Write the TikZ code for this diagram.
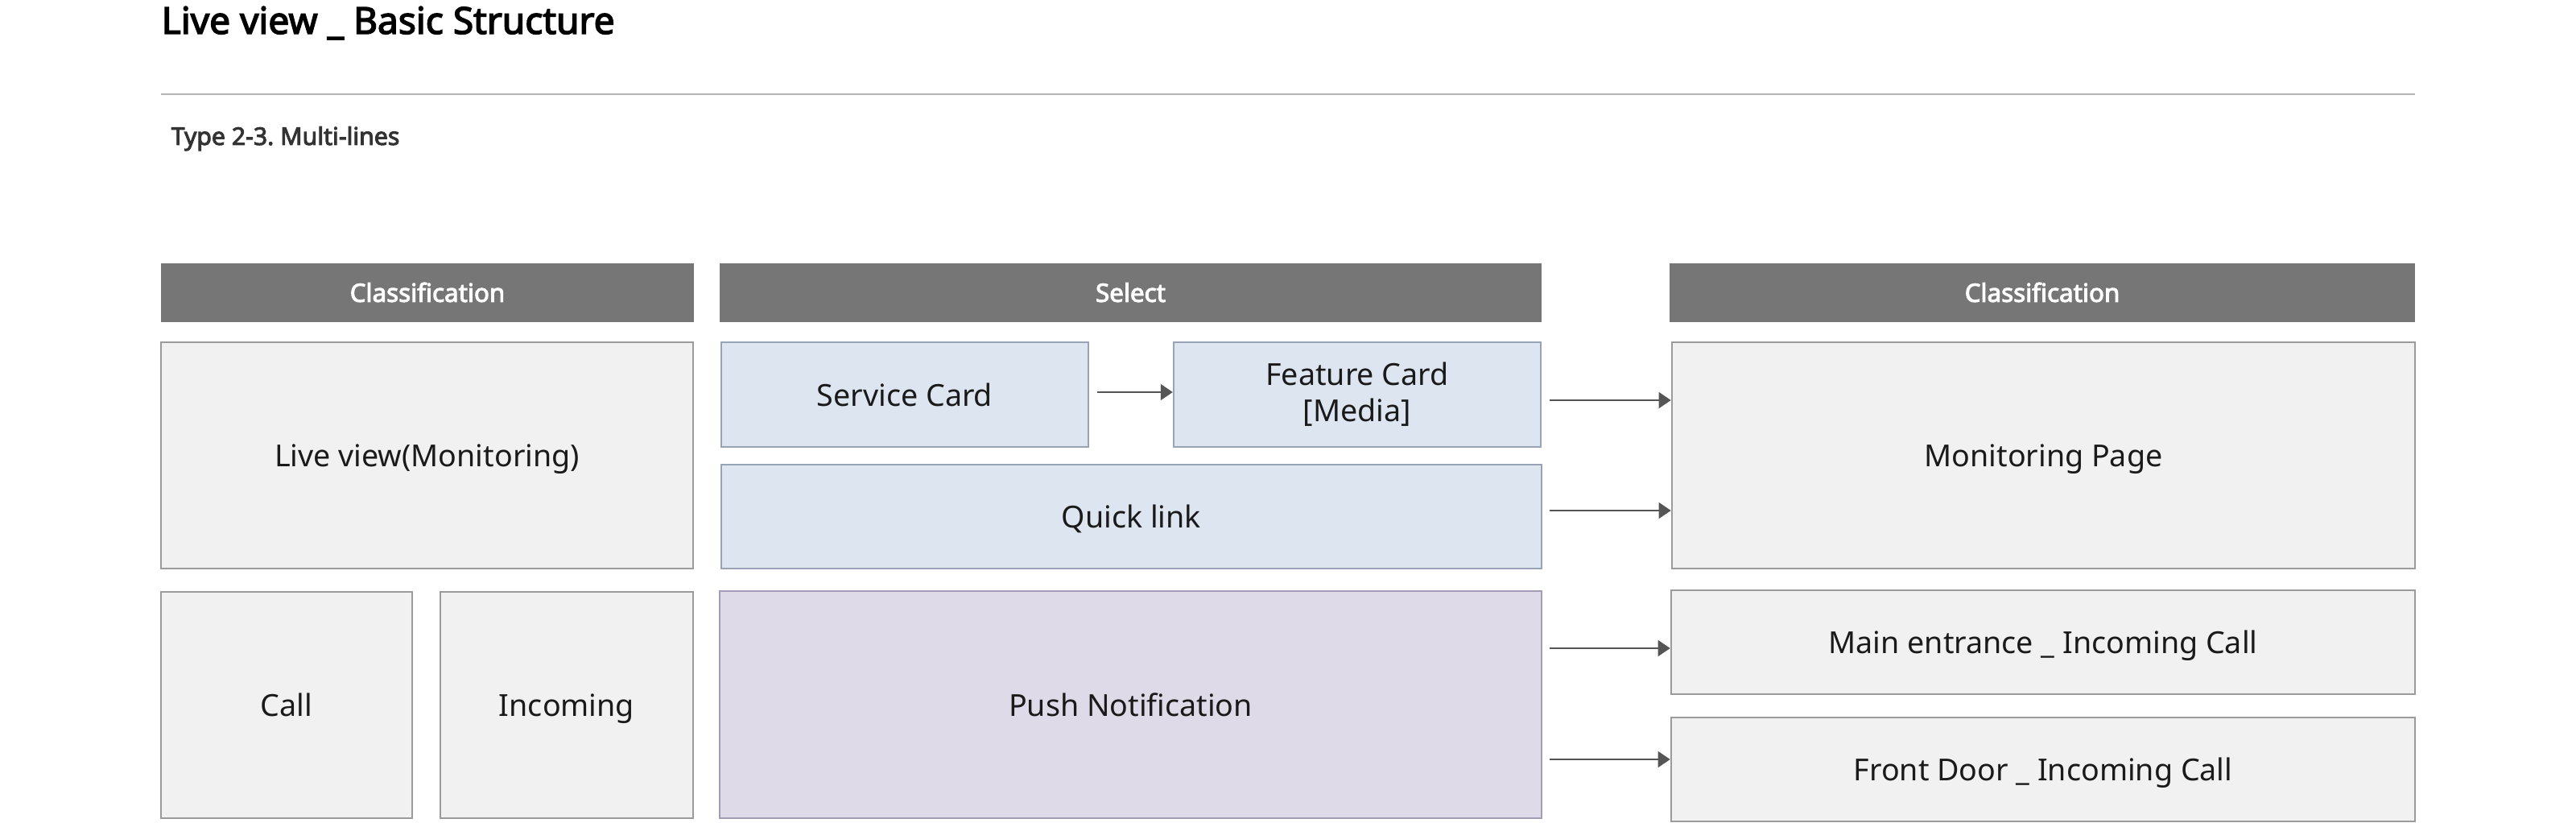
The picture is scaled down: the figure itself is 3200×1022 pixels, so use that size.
\documentclass[tikz,border=0pt]{standalone}
\usepackage{fontspec}
\setmainfont{Noto Sans}[AutoFakeBold=3.2]
\usetikzlibrary{arrows.meta,positioning}
\definecolor{hdrgray}{HTML}{767676}
\definecolor{boxgray}{HTML}{F1F1F1}
\definecolor{boxline}{HTML}{9B9B9B}
\definecolor{bluefill}{HTML}{DDE6F0}
\definecolor{blueline}{HTML}{98A3B6}
\definecolor{pushfill}{HTML}{DEDAE8}
\definecolor{pushline}{HTML}{A29CB6}
\definecolor{arrline}{HTML}{555555}
\definecolor{rulegray}{HTML}{B3B3B3}
\definecolor{txt}{HTML}{1A1A1A}
\frenchspacing
\begin{document}
\begin{tikzpicture}[x=0.01cm,y=-0.01cm,
 hdr/.style={fill=hdrgray,inner sep=0pt,text=white,minimum height=0.73cm,text height=0.88em,text depth=0.236em,font=\fontsize{8.9}{10}\selectfont\bfseries},
 graybox/.style={draw=boxline,fill=boxgray,line width=0.6pt,inner sep=0pt,align=center,text=txt,font=\fontsize{10.7}{12.8}\selectfont},
 oneline/.style={text height=1.05em,text depth=0.236em},
 bluebox/.style={graybox,draw=blueline,fill=bluefill},
 pushbox/.style={graybox,draw=pushline,fill=pushfill},
 arr/.style={draw=arrline,line width=0.4pt,-{Triangle[length=0.15cm,width=0.2cm]}},
 ]
 \useasboundingbox (0,0) rectangle (3200,1022);
 % titre
 \node[anchor=base west,inner sep=0pt,font=\fontsize{13.1}{15}\selectfont\bfseries] (title) at (200,42) {Live view \_ Basic Structure};
 \draw[rulegray,line width=0.55pt] (200,117)--(3000,117);
 \node[anchor=base west,inner sep=0pt,text=black!80,font=\fontsize{8.6}{10}\selectfont\bfseries] (sub) at (212,180) {Type 2-3. Multi-lines};
 % en-tetes
 \node[hdr,minimum width=6.62cm] (hdrA) at (531,363.5) {Classification};
 \node[hdr,minimum width=10.21cm] (hdrB) at (1404.5,363.5) {Select};
 \node[hdr,minimum width=9.26cm] (hdrC) at (2537,363.5) {Classification};
 % colonne gauche
 \node[graybox,oneline,minimum width=6.61cm,minimum height=2.81cm] (live) at (530.5,565.5) {Live view(Monitoring)};
 \node[graybox,oneline,minimum width=3.12cm,minimum height=2.81cm] (call) at (356,875.5) {Call};
 \node[graybox,oneline,minimum width=3.14cm,minimum height=2.81cm] (incoming) at (704,875.5) {Incoming};
 % colonne du milieu
 \node[bluebox,oneline,minimum width=4.56cm,minimum height=1.30cm] (service) at (1124,490) {Service Card};
 \node[bluebox,minimum width=4.56cm,minimum height=1.30cm] (feature) at (1686,490) {Feature Card\\{[Media]}};
 \node[bluebox,oneline,minimum width=10.19cm,minimum height=1.29cm] (quick) at (1405.5,641.5) {Quick link};
 \node[pushbox,oneline,minimum width=10.21cm,minimum height=2.82cm] (push) at (1404.5,875) {Push Notification};
 % colonne droite
 \node[graybox,oneline,minimum width=9.23cm,minimum height=2.81cm] (monitor) at (2538.5,565.5) {Monitoring Page};
 \node[graybox,oneline,minimum width=9.24cm,minimum height=1.29cm] (mainent) at (2538,797.5) {Main entrance \_ Incoming Call};
 \node[graybox,oneline,minimum width=9.24cm,minimum height=1.29cm] (front) at (2538,955.5) {Front Door \_ Incoming Call};
 % fleches
 \draw[arr] ([shift={(0.1cm,0.03cm)}]service.east)--([yshift=0.03cm]feature.west);
 \draw[arr] ([shift={(0.1cm,-0.07cm)}]feature.east)--([yshift=-0.07cm]feature.east-|monitor.west);
 \draw[arr] ([shift={(0.09cm,0.075cm)}]quick.east)--([yshift=0.075cm]quick.east-|monitor.west);
 \draw[arr] ([shift={(0.09cm,-0.075cm)}]push.east|-mainent.west)--([yshift=-0.075cm]mainent.west);
 \draw[arr] ([shift={(0.09cm,0.125cm)}]push.east|-front.west)--([yshift=0.125cm]front.west);
\end{tikzpicture}
\end{document}
